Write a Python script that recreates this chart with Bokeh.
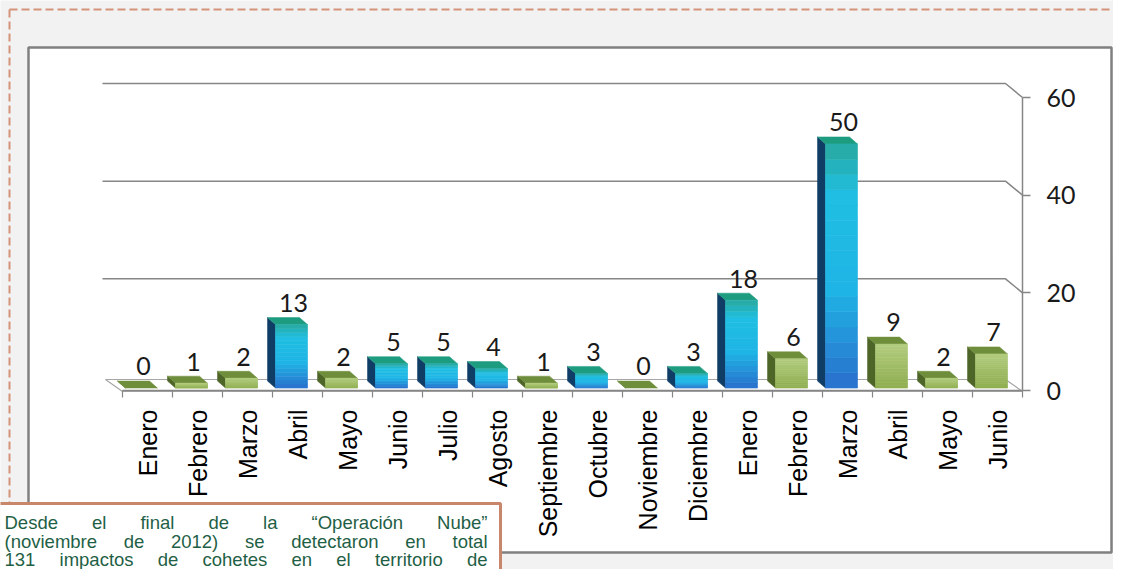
import math
from bokeh.plotting import figure
from bokeh.models import Range1d, LinearAxis, FixedTicker
from bokeh.core.properties import value
from bokeh.embed import file_html
from bokeh.resources import INLINE

# ---------------- data ----------------
meses = ["Enero", "Febrero", "Marzo", "Abril", "Mayo", "Junio", "Julio", "Agosto",
         "Septiembre", "Octubre", "Noviembre", "Diciembre", "Enero", "Febrero",
         "Marzo", "Abril", "Mayo", "Junio"]
impactos = [0, 1, 2, 13, 2, 5, 5, 4, 1, 3, 0, 3, 18, 6, 50, 9, 2, 7]
grupo = ["verde", "verde", "verde", "azul", "verde", "azul", "azul", "azul", "verde",
         "azul", "verde", "azul", "azul", "verde", "azul", "verde", "verde", "verde"]
y_ticks = [0, 20, 40, 60]
nota = ["Desde el final de la “Operación Nube”",
        "(noviembre de 2012) se detectaron en total",
        "131 impactos de cohetes en el territorio de"]

# ---------------- layout (picture pixels) ----------------
W, H = 1113, 569
CAT_PX = 50.0      # pixels per category
UNIT_PX = 4.883    # pixels per value unit
X0_PX = 147.0      # x of first category centre
Y0_PX = 390.0      # y of value 0


def X(px):
    return (px - X0_PX) / CAT_PX


def Y(py):
    return (Y0_PX - py) / UNIT_PX


n = len(meses)
x_lo, x_hi = -0.5, n - 0.5
DEPTH_X, DEPTH_Y = -17 / CAT_PX, 14 / UNIT_PX        # back wall offset
BAR_DX, BAR_DY = -8 / CAT_PX, 7 / UNIT_PX            # bar depth
BAR_L, BAR_R, BAR_B = -0.44, 0.20, 0.5

p = figure(width=W, height=H, output_backend="svg", toolbar_location=None,
           x_range=Range1d(X(0), X(W)), y_range=Range1d(Y(H), Y(0)),
           x_axis_type=None, y_axis_type=None)
p.min_border_left = p.min_border_right = p.min_border_top = p.min_border_bottom = 0
p.outline_line_color = None
p.background_fill_color = "#f2f2f2"
p.border_fill_color = "#f2f2f2"

# page frame: dashed orange border
dash_col = "#d4937a"
p.line([X(9), X(1200)], [Y(9), Y(9)], line_color=dash_col, line_width=2, line_dash="8 4")
p.line([X(9), X(9)], [Y(9), Y(503)], line_color=dash_col, line_width=2, line_dash="8 4")

# chart box
p.quad(left=X(28), right=X(1111), top=Y(47), bottom=Y(552),
       fill_color="white", line_color="#808080", line_width=2.5)

# back-wall gridlines
gx, gy = [], []
for v in y_ticks[1:]:
    gx.append([x_lo + DEPTH_X - 0.06, x_hi + DEPTH_X, x_hi])
    gy.append([v + DEPTH_Y, v + DEPTH_Y, v])
p.multi_line(gx, gy, line_color="#868686", line_width=1.5)

# floor
p.patch([x_lo, x_hi, x_hi + DEPTH_X, x_lo + DEPTH_X],
        [-0.2, -0.2, 11 / UNIT_PX, 11 / UNIT_PX],
        fill_color="white", line_color="#a6a6a6", line_width=1.2)


def hex2rgb(h):
    h = h.lstrip("#")
    return tuple(int(h[i:i + 2], 16) for i in (0, 2, 4))


def grad(stops, f):
    for (f0, c0), (f1, c1) in zip(stops, stops[1:]):
        if f <= f1:
            t = 0 if f1 == f0 else (f - f0) / (f1 - f0)
            a, b = hex2rgb(c0), hex2rgb(c1)
            return "#%02x%02x%02x" % tuple(round(a[k] + (b[k] - a[k]) * t) for k in range(3))
    return stops[-1][1]


estilos = {
    "azul": dict(stops=[(0.0, "#2a6fcc"), (0.4, "#1fb4e6"), (0.8, "#20bfe2"), (1.0, "#28a89e")],
                 side="#0f3d66", top="#1e9c80"),
    "verde": dict(stops=[(0.0, "#8fae50"), (1.0, "#b2cc7e")],
                  side="#4d6526", top="#6f8e3c"),
}

side_xs, side_ys, side_c = [], [], []
top_xs, top_ys, top_c = [], [], []
ql, qr, qt, qb, qc = [], [], [], [], []
NS = 16
for i, (v, g) in enumerate(zip(impactos, grupo)):
    st = estilos[g]
    xl, xr = i + BAR_L, i + BAR_R
    b, t = BAR_B, BAR_B + v
    side_xs.append([xl, xl, xl + BAR_DX, xl + BAR_DX])
    side_ys.append([b, t, t + BAR_DY, b + BAR_DY])
    side_c.append(st["side"])
    top_xs.append([xl, xr, xr + BAR_DX, xl + BAR_DX])
    top_ys.append([t, t, t + BAR_DY, t + BAR_DY])
    top_c.append(st["top"])
    if v > 0:
        for k in range(NS):
            ql.append(xl)
            qr.append(xr)
            qb.append(b + v * k / NS)
            qt.append(b + v * (k + 1) / NS)
            qc.append(grad(st["stops"], (k + 0.5) / NS))

p.patches(side_xs, side_ys, fill_color=side_c, line_color=side_c, line_width=0.5)
p.patches(top_xs, top_ys, fill_color=top_c, line_color=top_c, line_width=0.5)
p.quad(left=ql, right=qr, top=qt, bottom=qb, fill_color=qc, line_color=qc, line_width=0.6)

# data labels
p.text(x=[i - 0.08 for i in range(n)],
       y=[v + BAR_B + BAR_DY + 3.0 for v in impactos],
       text=[str(v) for v in impactos],
       text_font=value("Lato"), text_font_size="25px", text_color="#1a1a1a",
       text_align="center", text_baseline="alphabetic")

# axes
xaxis = LinearAxis(fixed_location=0, bounds=(x_lo, x_hi),
                   ticker=FixedTicker(ticks=list(range(n)),
                                      minor_ticks=[i - 0.5 for i in range(n + 1)]),
                   major_label_overrides={i: m for i, m in enumerate(meses)},
                   major_label_orientation=math.pi / 2,
                   major_tick_line_color=None, major_tick_in=0, major_tick_out=0,
                   minor_tick_in=0, minor_tick_out=7, minor_tick_line_color="#868686",
                   minor_tick_line_width=1.2,
                   axis_line_color="#868686", axis_line_width=1.5,
                   major_label_standoff=12,
                   major_label_text_font="Liberation Sans",
                   major_label_text_font_size="25px",
                   major_label_text_color="#000000")
p.add_layout(xaxis, "below")

yaxis = LinearAxis(fixed_location=x_hi, bounds=(y_ticks[0], y_ticks[-1]),
                   ticker=FixedTicker(ticks=y_ticks, minor_ticks=[]),
                   major_tick_in=0, major_tick_out=8, major_tick_line_color="#868686",
                   major_tick_line_width=1.5,
                   minor_tick_line_color=None,
                   axis_line_color="#868686", axis_line_width=1.5,
                   major_label_standoff=16,
                   major_label_text_font="Lato",
                   major_label_text_font_size="25px",
                   major_label_text_color="#1a1a1a")
p.add_layout(yaxis, "right")

# note box
p.quad(left=X(-4), right=X(500), top=Y(503), bottom=Y(620),
       fill_color="white", line_color="#c8866b", line_width=3)

AW = {" ": 278, "(": 333, ")": 333, "“": 333, "”": 333, "a": 556, "b": 556, "c": 500,
      "d": 556, "e": 556, "f": 278, "g": 556, "h": 556, "i": 222, "j": 222, "k": 500,
      "l": 222, "m": 833, "n": 556, "o": 556, "p": 556, "q": 556, "r": 333, "s": 500,
      "t": 278, "u": 556, "v": 500, "w": 722, "x": 500, "y": 500, "z": 500, "ó": 556,
      "D": 722, "N": 722, "O": 778}
FS = 18.5


def tw(s):
    return sum(AW.get(c, 556) for c in s) / 1000 * FS


wx, wy, wt = [], [], []
left_px, right_px = 4, 487
for li, line in enumerate(nota):
    words = line.split(" ")
    widths = [tw(w) for w in words]
    gap = (right_px - left_px - sum(widths)) / (len(words) - 1)
    xpos = left_px
    for w, wd in zip(words, widths):
        wx.append(X(xpos))
        wy.append(Y(522 + 18.5 * li))
        wt.append(w)
        xpos += wd + gap
p.text(x=wx, y=wy, text=wt, text_font=value("Liberation Sans"), text_font_size=f"{FS}px",
       text_color="#1f5f46", text_align="left", text_baseline="alphabetic")

open("out.html", "w").write(file_html(p, INLINE))
